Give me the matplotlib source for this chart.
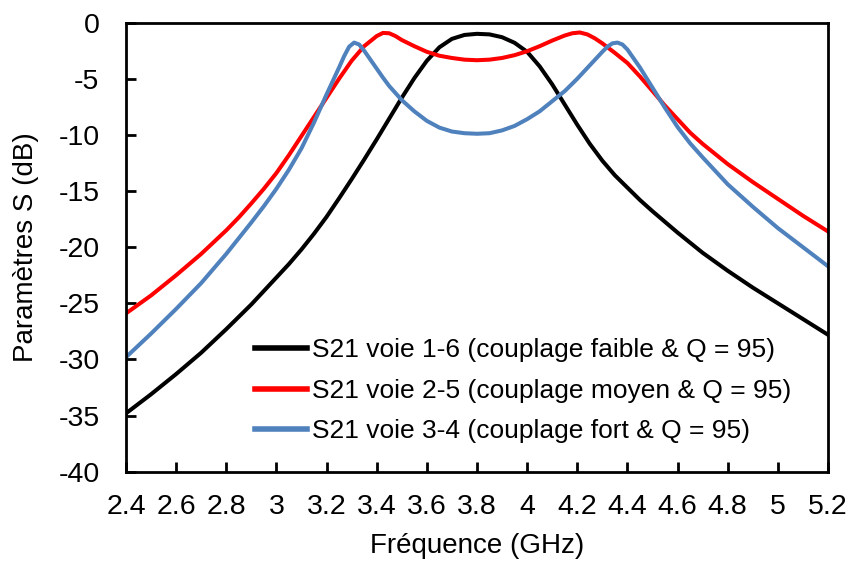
import matplotlib
matplotlib.use("Agg")
import matplotlib.pyplot as plt
from matplotlib.ticker import MultipleLocator, FuncFormatter

plt.rcParams['font.family'] = ['Liberation Sans', 'DejaVu Sans']

# S21 voie 1-6 (couplage faible)
freq_16 = [2.4, 2.5, 2.6, 2.7, 2.8, 2.9, 3.0, 3.05, 3.1, 3.15, 3.2, 3.25, 3.3,
           3.35, 3.4, 3.45, 3.5, 3.55, 3.6, 3.65, 3.7, 3.75, 3.8, 3.85, 3.9, 3.95,
           4.0, 4.05, 4.1, 4.15, 4.2, 4.25, 4.3, 4.35, 4.4, 4.45, 4.5, 4.6, 4.7,
           4.8, 4.9, 5.0, 5.1, 5.2]
s21_16 = [-34.8, -33.1, -31.3, -29.4, -27.3, -25.1, -22.7, -21.5, -20.2, -18.8,
          -17.3, -15.65, -13.95, -12.2, -10.4, -8.55, -6.7, -4.95, -3.4, -2.2,
          -1.45, -1.1, -1.0, -1.05, -1.3, -1.8, -2.6, -3.9, -5.5, -7.3, -9.1,
          -10.8, -12.3, -13.6, -14.7, -15.8, -16.8, -18.7, -20.5, -22.1, -23.6,
          -25.0, -26.4, -27.8]

# S21 voie 2-5 (couplage moyen)
freq_25 = [2.4, 2.5, 2.6, 2.7, 2.8, 2.85, 2.9, 2.95, 3.0, 3.05, 3.1, 3.15, 3.2,
           3.25, 3.3, 3.35, 3.4, 3.425, 3.45, 3.475, 3.5, 3.55, 3.6, 3.65, 3.7,
           3.75, 3.8, 3.85, 3.9, 3.95, 4.0, 4.05, 4.1, 4.15, 4.18, 4.21, 4.24,
           4.27, 4.3, 4.35, 4.4, 4.45, 4.5, 4.55, 4.6, 4.65, 4.7, 4.8, 4.9, 5.0,
           5.1, 5.2]
s21_25 = [-25.9, -24.3, -22.5, -20.6, -18.5, -17.35, -16.1, -14.8, -13.4, -11.8,
          -10.1, -8.4, -6.7, -5.0, -3.4, -2.1, -1.2, -0.92, -0.95, -1.2, -1.55,
          -2.1, -2.6, -2.95, -3.15, -3.3, -3.35, -3.3, -3.15, -2.9, -2.55, -2.1,
          -1.6, -1.15, -0.95, -0.88, -1.05, -1.4, -1.85, -2.7, -3.6, -4.8, -6.1,
          -7.4, -8.6, -9.8, -10.8, -12.6, -14.2, -15.7, -17.2, -18.6]

# S21 voie 3-4 (couplage fort)
freq_34 = [2.4, 2.5, 2.6, 2.7, 2.8, 2.9, 2.95, 3.0, 3.05, 3.1, 3.15, 3.2, 3.25,
           3.27, 3.29, 3.31, 3.33, 3.35, 3.375, 3.4, 3.425, 3.45, 3.5, 3.55, 3.6,
           3.65, 3.7, 3.75, 3.8, 3.85, 3.9, 3.95, 4.0, 4.05, 4.1, 4.15, 4.2,
           4.25, 4.3, 4.32, 4.34, 4.36, 4.38, 4.4, 4.425, 4.45, 4.475, 4.5, 4.55,
           4.6, 4.65, 4.7, 4.8, 4.9, 5.0, 5.1, 5.2]
s21_34 = [-29.8, -27.7, -25.5, -23.2, -20.6, -17.8, -16.35, -14.8, -13.1, -11.2,
          -8.9, -6.4, -4.0, -3.0, -2.15, -1.78, -1.95, -2.5, -3.3, -4.1, -4.9,
          -5.65, -6.9, -7.9, -8.75, -9.35, -9.7, -9.85, -9.9, -9.85, -9.6, -9.2,
          -8.6, -7.9, -7.0, -6.1, -5.0, -3.8, -2.6, -2.15, -1.85, -1.78, -1.95,
          -2.4, -3.2, -4.0, -4.9, -5.8, -7.6, -9.3, -10.75, -12.0, -14.4, -16.4,
          -18.3, -20.0, -21.7]

labels = ['S21 voie 1-6 (couplage faible & Q = 95)',
          'S21 voie 2-5 (couplage moyen & Q = 95)',
          'S21 voie 3-4 (couplage fort & Q = 95)']
colors = ['black', '#FF0000', '#4F81BD']

fig = plt.figure(figsize=(8.51, 5.65), dpi=100)
ax = fig.add_axes([0.148, 0.165, 0.825, 0.795])

ax.plot(freq_16, s21_16, color=colors[0], lw=2.9, label=labels[0])
ax.plot(freq_25, s21_25, color=colors[1], lw=2.9, label=labels[1])
ax.plot(freq_34, s21_34, color=colors[2], lw=2.9, label=labels[2])

ax.set_xlim(2.4, 5.2)
ax.set_ylim(-40, 0)
ax.xaxis.set_major_locator(MultipleLocator(0.2))
ax.yaxis.set_major_locator(MultipleLocator(5))
ax.xaxis.set_major_formatter(FuncFormatter(lambda v, p: f'{v:.1f}'.rstrip('0').rstrip('.')))
ax.yaxis.set_major_formatter(FuncFormatter(lambda v, p: f'{v:.0f}'))
ax.tick_params(direction='in', length=7, width=2, labelsize=20.5)
ax.tick_params(axis='x', pad=16)
ax.tick_params(axis='y', pad=19)
for sp in ax.spines.values():
    sp.set_linewidth(2)

ax.set_xlabel('Fréquence (GHz)', fontsize=20)
ax.set_ylabel('Paramètres S (dB)', fontsize=20)
ax.xaxis.set_label_coords(0.5, -0.136)
ax.yaxis.set_label_coords(-0.124, 0.5)

leg = ax.legend(loc='upper left', bbox_to_anchor=(0.169, 0.321), fontsize=19,
                frameon=True, facecolor='white', edgecolor='none', framealpha=1,
                fancybox=False, handlelength=1.97, handletextpad=0.2,
                labelspacing=0.63, borderpad=0.4, borderaxespad=0)
for line in leg.get_lines():
    line.set_linewidth(4)

fig.savefig('out.png', dpi=100)
